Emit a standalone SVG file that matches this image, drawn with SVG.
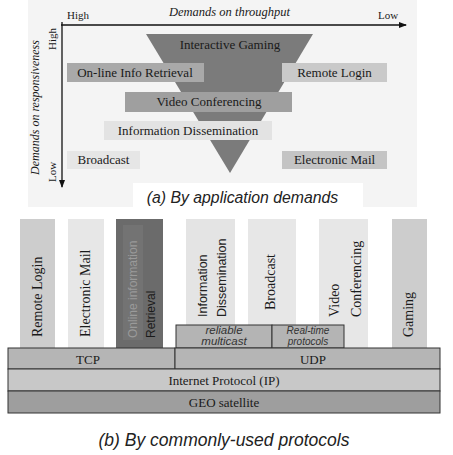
<svg xmlns="http://www.w3.org/2000/svg" width="453" height="455" viewBox="0 0 453 455">
<style>
.ser{font-family:"Liberation Serif","Times New Roman",serif;fill:#1a1a1a}
.lbl{font-size:13px;text-anchor:middle}
.ax{font-size:11px}
.ital{font-style:italic}
.cap{font-family:"Liberation Sans",Arial,sans-serif;font-style:italic;fill:#222;text-anchor:middle}
.sans{font-family:"Liberation Sans",Arial,sans-serif;fill:#222}
.bar{font-size:14px}
.layer{stroke:#333;stroke-width:1}
.axis{stroke:#111;stroke-width:1.3;fill:none}
</style>
<defs>
<marker id="ah" markerWidth="8" markerHeight="6" refX="7" refY="3" orient="auto" markerUnits="userSpaceOnUse">
<path d="M0,0 L8,3 L0,6 z" fill="#111"/>
</marker>
</defs>
<rect x="0" y="0" width="453" height="455" fill="#ffffff"/>
<!-- panel (a) -->
<g id="panel-a">
<rect x="28" y="0" width="389" height="207" fill="#f4f4f4"/>
<rect x="133" y="183" width="230" height="27" fill="#ffffff"/>
</g>
<g id="connectors">
<line class="axis" x1="61" y1="25" x2="406" y2="25" marker-end="url(#ah)"/>
<line class="axis" x1="62" y1="22" x2="62" y2="187" marker-end="url(#ah)"/>
</g>
<g id="axis-labels">
<text class="ser ax" x="67" y="19">High</text>
<text class="ser ax" x="378" y="19">Low</text>
<text class="ser ital" font-size="12.5" x="229.5" y="16" text-anchor="middle">Demands on throughput</text>
<text class="ser ital" font-size="12" transform="translate(39,107.5) rotate(-90)" text-anchor="middle">Demands on responsiveness</text>
<text class="ser ax" transform="translate(56,39) rotate(-90)" text-anchor="middle">High</text>
<text class="ser ax" transform="translate(56,172) rotate(-90)" text-anchor="middle">Low</text>
</g>
<g id="funnel">
<polygon points="146,34 313,34 230,173" fill="#7b7b7b"/>
<text class="ser lbl" x="230" y="49">Interactive Gaming</text>
</g>
<g id="online-info-retrieval">
<rect x="67" y="63" width="137" height="19" fill="#a9a9a9"/>
<text class="ser lbl" x="135" y="77">On-line Info Retrieval</text>
</g>
<g id="remote-login">
<rect x="282" y="63" width="105" height="19" fill="#c9c9c9"/>
<text class="ser lbl" x="334.5" y="77">Remote Login</text>
</g>
<g id="video-conferencing">
<rect x="125" y="92" width="167" height="20" fill="#9f9f9f"/>
<text class="ser lbl" x="209" y="106">Video Conferencing</text>
</g>
<g id="information-dissemination">
<rect x="104" y="121" width="168" height="19" fill="#e3e3e3"/>
<text class="ser lbl" x="188" y="135">Information Dissemination</text>
</g>
<g id="broadcast">
<rect x="67" y="151" width="73" height="18" fill="#e6e6e6"/>
<text class="ser lbl" x="103.5" y="164">Broadcast</text>
</g>
<g id="electronic-mail">
<rect x="282" y="151" width="105" height="18" fill="#c4c4c4"/>
<text class="ser lbl" x="334.5" y="164">Electronic Mail</text>
</g>
<text class="cap" font-size="15.8" x="242.5" y="203">(a) By application demands</text>
<!-- panel (b) -->
<g id="bar-remote-login">
<rect x="20" y="219" width="35" height="129" fill="#cdcdcd"/>
<text class="ser bar" transform="translate(42,337) rotate(-90)">Remote Login</text>
</g>
<g id="bar-electronic-mail">
<rect x="68" y="219" width="36" height="129" fill="#e7e7e7"/>
<text class="ser bar" transform="translate(90,337) rotate(-90)">Electronic Mail</text>
</g>
<g id="bar-online-information-retrieval">
<rect x="116" y="219" width="47" height="129" fill="#6b6b6b"/>
<rect x="123" y="225" width="20" height="115" fill="#737373"/>
<text class="sans" font-size="12" fill="#9a9a9a" style="fill:#9a9a9a" transform="translate(137,338) rotate(-90)">Online information</text>
<text class="sans" font-size="12" style="fill:#1a1a1a" transform="translate(155,338) rotate(-90)">Retrieval</text>
</g>
<g id="bar-information-dissemination">
<rect x="186" y="219" width="49" height="129" fill="#e4e4e4"/>
<text class="sans" font-size="12.5" transform="translate(207,317) rotate(-90)">Information</text>
<text class="sans" font-size="12.5" transform="translate(226,317) rotate(-90)">Dissemination</text>
</g>
<g id="bar-broadcast">
<rect x="248" y="219" width="48" height="129" fill="#e7e7e7"/>
<text class="ser bar" transform="translate(275,310) rotate(-90)">Broadcast</text>
</g>
<g id="bar-video-conferencing">
<rect x="319" y="219" width="49" height="129" fill="#e7e7e7"/>
<text class="ser bar" transform="translate(339,317) rotate(-90)">Video</text>
<text class="ser bar" transform="translate(361,317) rotate(-90)">Conferencing</text>
</g>
<g id="bar-gaming">
<rect x="392" y="219" width="35" height="129" fill="#cdcdcd"/>
<text class="ser bar" transform="translate(413,337) rotate(-90)">Gaming</text>
</g>
<g id="reliable-multicast">
<rect class="layer" x="176" y="325" width="96" height="23" fill="#b4b4b4"/>
<text class="sans" font-size="11.5" font-style="italic" text-anchor="middle" x="224" y="334" style="fill:#333">reliable</text>
<text class="sans" font-size="11.5" font-style="italic" text-anchor="middle" x="224" y="345" style="fill:#333">multicast</text>
</g>
<g id="real-time-protocols">
<rect class="layer" x="272" y="325" width="72" height="23" fill="#b4b4b4"/>
<text class="sans" font-size="10" font-style="italic" text-anchor="middle" x="308" y="334" style="fill:#333">Real-time</text>
<text class="sans" font-size="10" font-style="italic" text-anchor="middle" x="308" y="345" style="fill:#333">protocols</text>
</g>
<g id="tcp">
<rect class="layer" x="8" y="348" width="167" height="21" fill="#b5b5b5"/>
<text class="ser lbl" font-size="14" x="88" y="364">TCP</text>
</g>
<g id="udp">
<rect class="layer" x="175" y="348" width="265" height="21" fill="#b5b5b5"/>
<text class="ser lbl" font-size="14" x="313" y="364">UDP</text>
</g>
<g id="ip">
<rect class="layer" x="8" y="369" width="432" height="22" fill="#c8c8c8"/>
<text class="ser lbl" font-size="14" x="224" y="385">Internet Protocol (IP)</text>
</g>
<g id="geo-satellite">
<rect class="layer" x="8" y="391" width="432" height="22" fill="#9e9e9e"/>
<text class="ser lbl" font-size="14" x="224" y="407">GEO satellite</text>
</g>
<text class="cap" font-size="17.5" x="224" y="446">(b) By commonly-used protocols</text>
</svg>
